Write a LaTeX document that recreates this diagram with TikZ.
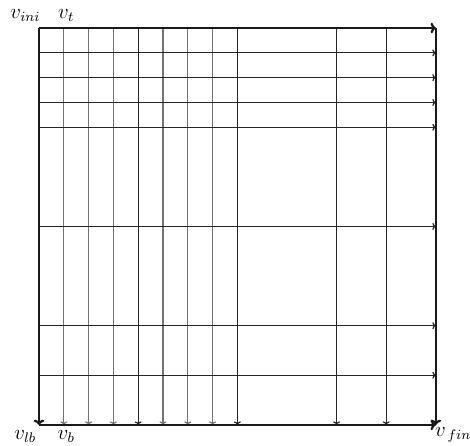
\documentclass[tikz,border=0pt]{standalone}
\usetikzlibrary{arrows.meta}

\begin{document}
\begin{tikzpicture}[x=0.5cm, y=0.5cm, font=\large,
    thinline/.style={-{To[length=2pt,width=4pt]}, line width=0.7pt, black!85},
    greyline/.style={-{To[length=2pt,width=4pt]}, line width=0.7pt, black!55},
    borderline/.style={-{To[length=3pt,width=6pt]}, line width=1.3pt, black!90}]
    \useasboundingbox (-1.572,-0.846) rectangle (17.378,17.13);

    % end points of the lines (rows counted from the top)
    \foreach \c in {0,...,16} {
      \coordinate (t\c) at (\c,16);
      \coordinate (b\c) at (\c,0);
      \coordinate (l\c) at (0,16-\c);
      \coordinate (r\c) at (16,16-\c);
    }

    % vertical lines
    \foreach \c in {1,2,3,5,6,7} \draw[greyline] (t\c) -- (b\c);
    \foreach \c in {4,8,12,14} \draw[thinline] (t\c) -- (b\c);

    % horizontal lines
    \foreach \r in {1,2,3,4,8,12,14} \draw[thinline] (l\r) -- (r\r);

    % border
    \draw[borderline] (t0) -- (t16);
    \draw[borderline] (t0) -- (b0);
    \draw[borderline] (b0) -- (b16);
    \draw[borderline] (t16) -- (b16);

    \node[anchor=base] (vini) at (-0.55,16.4) {$v_{ini}$};
    \node[anchor=base] (vt) at (1.1,16.4) {$v_t$};
    \node[anchor=base] (vlb) at (-0.55,-0.6) {$v_{lb}$};
    \node[anchor=base] (vb) at (1.1,-0.6) {$v_b$};
    \node[anchor=base] (vfin) at (16.7,-0.48) {$v_{\,fin}$};
  \end{tikzpicture}
\end{document}
